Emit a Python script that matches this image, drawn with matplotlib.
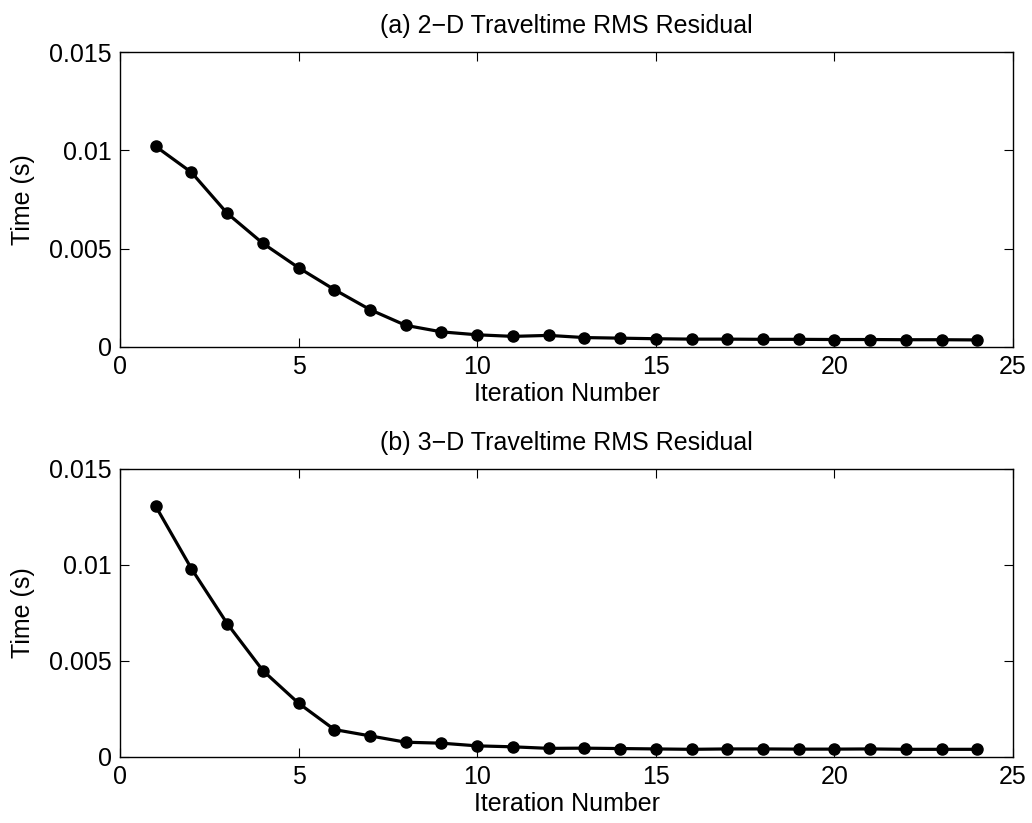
import matplotlib
matplotlib.use('Agg')
import matplotlib.pyplot as plt

plt.rcParams['font.family'] = ['Liberation Sans', 'DejaVu Sans']

# iteration numbers
iters = list(range(1, 25))

# (a) 2-D traveltime RMS residual (s)
rms_2d = [0.0102, 0.00888, 0.0068, 0.00527, 0.00403, 0.00292, 0.0019, 0.0011,
          0.00077, 0.00062, 0.00054, 0.00059, 0.00048, 0.00045, 0.00042, 0.0004,
          0.0004, 0.00039, 0.00039, 0.00038, 0.00038, 0.00037, 0.00037, 0.00036]

# (b) 3-D traveltime RMS residual (s)
rms_3d = [0.01306, 0.00981, 0.00695, 0.0045, 0.0028, 0.00143, 0.0011, 0.00077,
          0.00072, 0.00058, 0.00053, 0.00045, 0.00046, 0.00044, 0.00042, 0.0004,
          0.00042, 0.00042, 0.00041, 0.00041, 0.00042, 0.0004, 0.0004, 0.0004]

titles = ['(a) 2\u2212D Traveltime RMS Residual', '(b) 3\u2212D Traveltime RMS Residual']
yticks = [0, 0.005, 0.01, 0.015]
ytick_labels = ['0', '0.005', '0.01', '0.015']
xticks = [0, 5, 10, 15, 20, 25]

W, H = 1032, 823
fig = plt.figure(figsize=(W / 100, H / 100), dpi=100)
# axes boxes in pixels: left, top, right, bottom
boxes = [(120, 52, 1013, 347), (120, 469, 1013, 757)]

fs = 18
for (l, t, r, b), y, title in zip(boxes, [rms_2d, rms_3d], titles):
    ax = fig.add_axes((l / W, 1 - b / H, (r - l) / W, (b - t) / H))
    ax.plot(iters, y, color='black', lw=2.3, marker='o', ms=8)
    ax.set_xlim(0, 25)
    ax.set_ylim(0, 0.015)
    ax.set_xticks(xticks)
    ax.set_yticks(yticks)
    ax.set_yticklabels(ytick_labels)
    ax.tick_params(direction='in', top=True, right=True, labelsize=fs, length=6.5, pad=6)
    for s in ax.spines.values():
        s.set_linewidth(1.0)
    ax.set_title(title, fontsize=fs, pad=14)
    ax.set_xlabel('Iteration Number', fontsize=fs, labelpad=2)
    ax.set_ylabel('Time (s)', fontsize=fs, labelpad=10)

fig.savefig('out.png', dpi=100)
